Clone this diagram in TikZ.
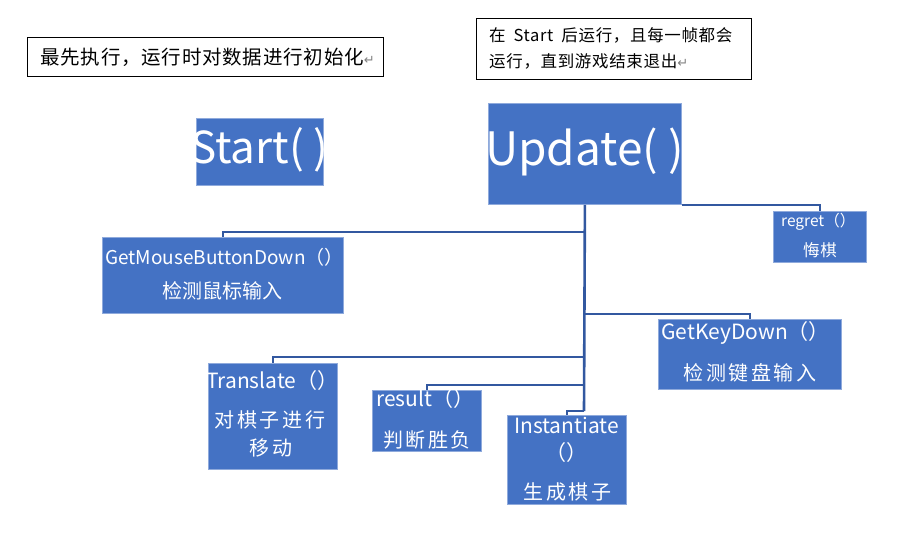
\documentclass[tikz,border=0pt]{standalone}
\usepackage{fontspec}
\setmainfont{Noto Sans CJK SC}
\newfontfamily\dv{DejaVu Sans}
\newfontfamily\cjks[LetterSpace=13]{Noto Sans CJK SC}
\newfontfamily\cjkn[LetterSpace=4]{Noto Sans CJK SC}
\definecolor{boxblue}{HTML}{4472C4}
\definecolor{boxedge}{HTML}{8FAADC}
\definecolor{linkblue}{HTML}{3258A0}
\tikzset{
  bluebox/.style={fill=boxblue, draw=boxedge, line width=0.8pt, inner sep=0pt, anchor=north west},
  notebox/.style={draw=black, line width=1pt, inner sep=0pt, anchor=north west},
  wtxt/.style={text=white, inner sep=0pt, font=\fontsize{21}{24}\selectfont},
  stxt/.style={text=white, inner sep=0pt, font=\cjks\fontsize{20}{24}\selectfont},
  link/.style={draw=linkblue, line width=2.6pt}
}
\newcommand{\retm}{{\dv\color{gray}\fontsize{13}{14}\selectfont ↵}}
\begin{document}
\begin{tikzpicture}[x=1pt,y=-1pt]
\useasboundingbox (0,0) rectangle (899,535);
% notes
\node[notebox, minimum width=356pt, minimum height=39pt] (n1) at (27,37) {};
\node[anchor=west, inner sep=0pt, font=\cjkn\fontsize{19.5}{22}\selectfont] (n1t) at (40,57) {最先执行，运行时对数据进行初始化\retm};
\node[notebox, minimum width=275pt, minimum height=61pt] (n2) at (476,18) {};
\node[anchor=north west, inner sep=0pt, align=left, font=\cjkn\fontsize{16.5}{26}\selectfont] (n2t) at (489,27) {在\hspace{8pt}Start\hspace{8pt}后运行，且每一帧都会\\运行，直到游戏结束退出\retm};
% main boxes
\node[bluebox, minimum width=127pt, minimum height=67pt] (st) at (196,118) {};
\node[text=white, inner sep=0pt, font=\fontsize{44}{50}\selectfont] (stt) at (259.5,150) {Start( )};
\node[bluebox, minimum width=193pt, minimum height=101pt] (upd) at (488,103) {};
\node[text=white, inner sep=0pt, font=\fontsize{46}{50}\selectfont] (updt) at (584.5,152) {Update( )};
% regret
\node[bluebox, minimum width=93pt, minimum height=51pt] (reg) at (773,211) {};
\node[wtxt, anchor=west, font=\fontsize{15.5}{18}\selectfont] (reg1) at (781,222) {regret（）};
\node[wtxt, font=\cjkn\fontsize{16.5}{18}\selectfont] (reg2) at (820,250) {悔棋};
% GetMouseButtonDown
\node[bluebox, minimum width=241pt, minimum height=76pt] (gm) at (102,237) {};
\node[wtxt, anchor=west, font=\fontsize{19}{22}\selectfont] (gm1) at (105,257) {GetMouseButtonDown（）};
\node[wtxt, font=\fontsize{20}{24}\selectfont] (gm2) at (222.5,291) {检测鼠标输入};
% GetKeyDown
\node[bluebox, minimum width=183pt, minimum height=70pt] (gk) at (658,319) {};
\node[wtxt, anchor=west] (gk1) at (661,333) {GetKeyDown（）};
\node[stxt] (gk2) at (750,373) {检测键盘输入};
% Translate
\node[bluebox, minimum width=129pt, minimum height=106pt] (tr) at (208,363) {};
\node[wtxt, anchor=west] (tr1) at (206,381) {Translate（）};
\node[stxt] (tr2) at (270,420) {对棋子进行};
\node[stxt] (tr3) at (271,448) {移动};
% result
\node[bluebox, minimum width=109pt, minimum height=61pt] (rs) at (372,390) {};
\node[wtxt, anchor=west] (rs1) at (376,399) {result（）};
\node[stxt] (rs2) at (427,440) {判断胜负};
% Instantiate
\node[bluebox, minimum width=119pt, minimum height=89pt] (in) at (507,415) {};
\node[wtxt] (in1) at (566.5,425) {Instantiate};
\node[wtxt] (in2) at (566.5,453) {（）};
\node[stxt] (in3) at (567.5,492) {生成棋子};
% connectors
\coordinate (j1) at (584,232);
\coordinate (j2) at (584,314);
\coordinate (j3) at (584,357);
\coordinate (j4) at (584,385);
\coordinate (jend) at (584,411);
\draw[link] (upd.south) -- (jend);
\draw[link] (upd.south east) -| (reg.north);
\draw[link] (j1) -| (gm.north);
\draw[link] (j2) -| (gk.north);
\draw[link] (j3) -| (tr.north);
\draw[link] (j4) -| (rs.north);
\draw[link] (jend) -| (in.north);
\end{tikzpicture}
\end{document}
